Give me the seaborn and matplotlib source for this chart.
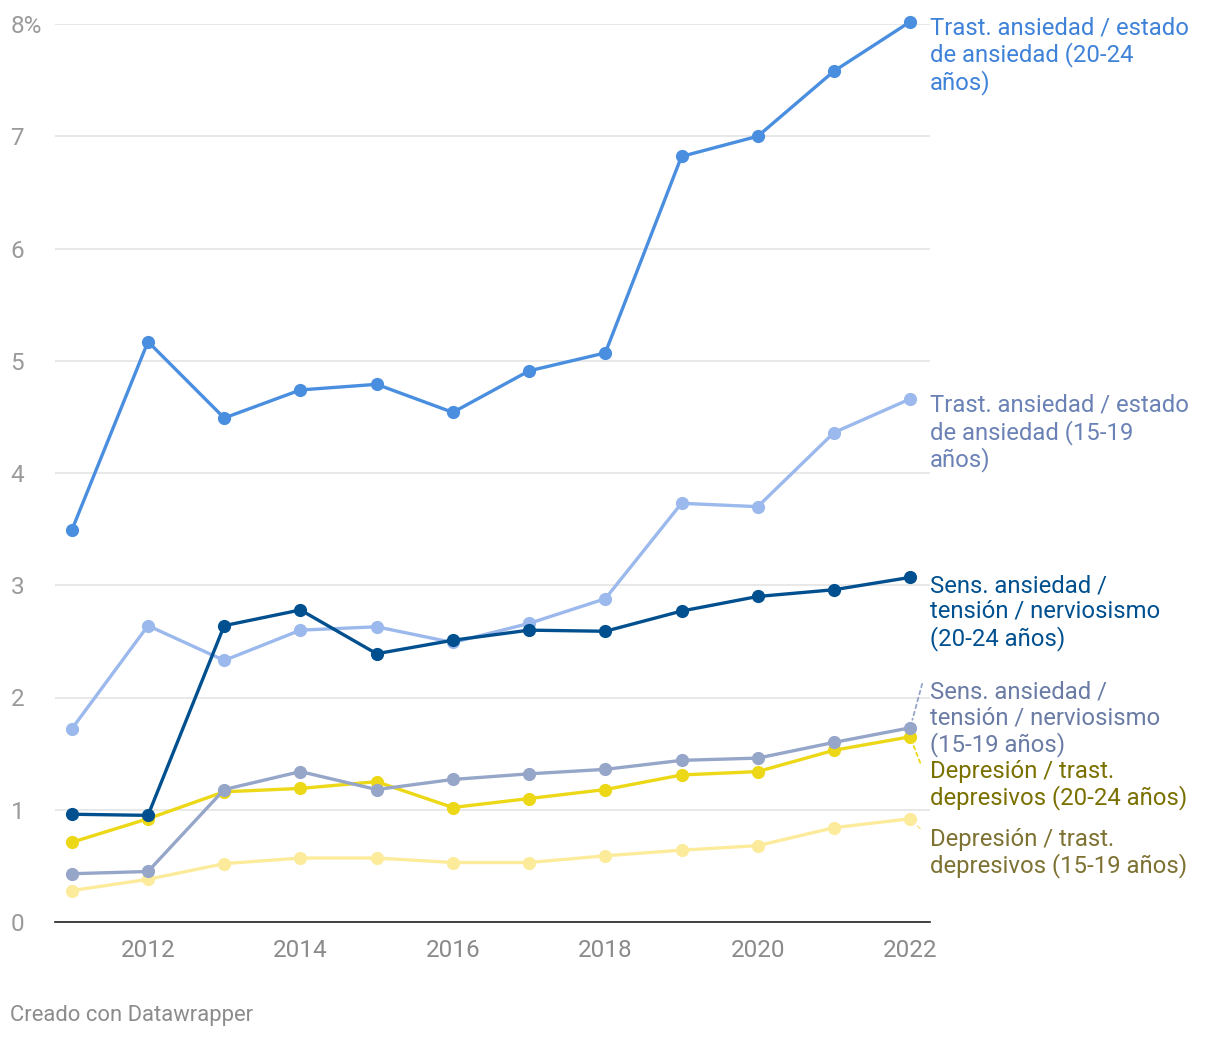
import matplotlib
matplotlib.use("Agg")
import matplotlib.pyplot as plt
import pandas as pd
import seaborn as sns

# data
years = list(range(2011, 2023))
anx_20_24 = [3.49, 5.17, 4.49, 4.74, 4.79, 4.54, 4.91, 5.07, 6.82, 7.00, 7.58, 8.02]
anx_15_19 = [1.72, 2.64, 2.33, 2.60, 2.63, 2.49, 2.66, 2.88, 3.73, 3.70, 4.36, 4.66]
sens_20_24 = [0.96, 0.95, 2.64, 2.78, 2.39, 2.51, 2.60, 2.59, 2.77, 2.90, 2.96, 3.07]
sens_15_19 = [0.43, 0.45, 1.18, 1.34, 1.18, 1.27, 1.32, 1.36, 1.44, 1.46, 1.60, 1.73]
dep_20_24 = [0.71, 0.92, 1.16, 1.19, 1.25, 1.02, 1.10, 1.18, 1.31, 1.34, 1.53, 1.65]
dep_15_19 = [0.28, 0.38, 0.52, 0.57, 0.57, 0.53, 0.53, 0.59, 0.64, 0.68, 0.84, 0.92]

y_ticks = [0, 1, 2, 3, 4, 5, 6, 7, 8]
y_tick_labels = ["0", "1", "2", "3", "4", "5", "6", "7", "8%"]
x_ticks = [2012, 2014, 2016, 2018, 2020, 2022]

# name, values, line colour, label colour, label text, label offset (px), connector end (px)
series = [
    ("dep_15_19", dep_15_19, "#fdeb9c", "#7d7232",
     "Depresión / trast.\ndepresivos (15-19 años)", (20, -9), (10, -10)),
    ("dep_20_24", dep_20_24, "#ecd817", "#7a7000",
     "Depresión / trast.\ndepresivos (20-24 años)", (20, -23), (10, -26)),
    ("sens_15_19", sens_15_19, "#95a6c9", "#6a7ca5",
     "Sens. ansiedad /\ntensión / nerviosismo\n(15-19 años)", (20, 47), (12, 44)),
    ("anx_15_19", anx_15_19, "#9bb9ed", "#6b82b6",
     "Trast. ansiedad / estado\nde ansiedad (15-19\naños)", (20, 5), None),
    ("sens_20_24", sens_20_24, "#00508f", "#00508f",
     "Sens. ansiedad /\ntensión / nerviosismo\n(20-24 años)", (20, 3), None),
    ("anx_20_24", anx_20_24, "#4a8ee0", "#3f82d8",
     "Trast. ansiedad / estado\nde ansiedad (20-24\naños)", (20, 5), None),
]

sns.set_style("white")
plt.rcParams["font.family"] = ["Roboto", "DejaVu Sans"]

fig = plt.figure(figsize=(12.2, 10.38), dpi=100)
ax = fig.add_axes([55 / 1220, 116 / 1038, 875 / 1220, 898 / 1038])

for name, vals, color, tcolor, text, offset, conn in series:
    df = pd.DataFrame({"year": years, "value": vals})
    sns.lineplot(data=df, x="year", y="value", ax=ax, color=color,
                 linewidth=2.4, marker="o", markersize=9.5,
                 markeredgewidth=0, clip_on=False)
    ax.annotate(text, xy=(years[-1], vals[-1]), xytext=offset,
                textcoords="offset pixels", ha="left", va="top",
                fontsize=17.2, color=tcolor, linespacing=1.14,
                annotation_clip=False)
    if conn is not None:
        ax.annotate("", xy=(years[-1], vals[-1]), xytext=conn,
                    textcoords="offset pixels",
                    arrowprops=dict(arrowstyle="-", color=color, lw=1.3,
                                    linestyle=(0, (2, 2)), shrinkA=0, shrinkB=6),
                    annotation_clip=False)

ax.set_xlim(2010.78, 2022.26)
ax.set_ylim(0, 8)
ax.set_yticks(y_ticks)
ax.set_yticklabels(y_tick_labels)
ax.set_xticks(x_ticks)
ax.set_xlabel("")
ax.set_ylabel("")

ax.grid(axis="y", color="#e2e2e2", linewidth=1.1)
ax.grid(axis="x", visible=False)
ax.set_axisbelow(True)
for side in ["top", "right", "left"]:
    ax.spines[side].set_visible(False)
ax.spines["bottom"].set_color("#222222")
ax.spines["bottom"].set_linewidth(1.2)

ax.tick_params(axis="y", length=0, pad=32, labelsize=17.5, labelcolor="#9a9a9a")
for lab in ax.get_yticklabels():
    lab.set_horizontalalignment("left")
ax.tick_params(axis="x", length=0, pad=12, labelsize=17.5, labelcolor="#8a8a8a")

fig.text(10 / 1220, 1 - 1015 / 1038, "Creado con Datawrapper", fontsize=15.8,
         color="#8c8c8c", ha="left", va="center")

fig.savefig("out.png", dpi=100)
